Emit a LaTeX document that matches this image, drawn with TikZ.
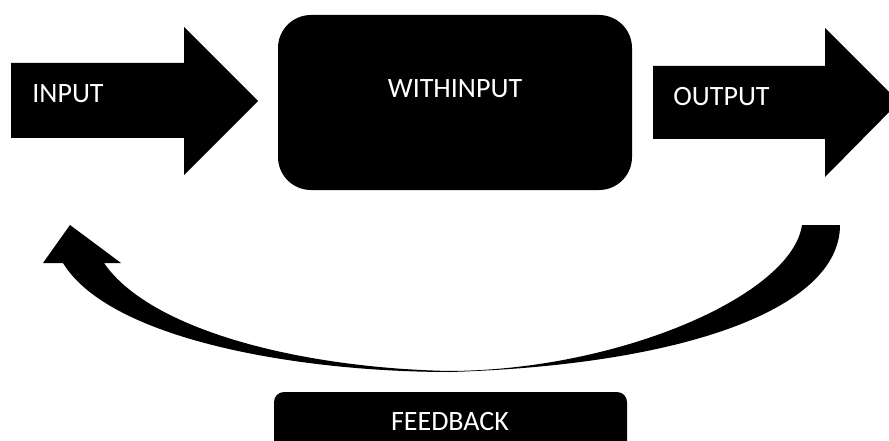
\documentclass[tikz,border=0pt]{standalone}
\usepackage{fontspec}
\setmainfont{Carlito}
\begin{document}
\begin{tikzpicture}[x=1pt,y=-1pt,
  lbl/.style={text=white,font=\fontsize{28}{30}\selectfont,inner sep=0pt,anchor=base},
  blk/.style={fill=black,draw=none}]
\useasboundingbox (0,0) rectangle (889,441);
\clip (0,0) rectangle (889,441);
% input arrow
\fill[blk] (11,63) -- (184,63) -- (184,27) -- (258,101) -- (184,175) -- (184,138) -- (11,138) -- cycle;
\node[lbl] (input) at (68,103) {INPUT};
% process box
\node[blk,rectangle,rounded corners=33pt,minimum width=354pt,minimum height=175pt,inner sep=0pt] (box) at (455,102.5) {};
\node[lbl] (within) at (455,98) {WITHINPUT};
% output arrow
\fill[blk] (653,66) -- (825,66) -- (825,28) -- (899,102) -- (825,177) -- (825,139) -- (653,139) -- cycle;
\node[lbl] (output) at (721.5,106) {OUTPUT};
% feedback curved arrow
\fill[blk] (70,225) -- (121,263) -- (104,263)
  .. controls (150,330) and (300,368) .. (450,371)
  .. controls (620,370) and (792,295) .. (802,225)
  -- (840,225)
  .. controls (840,310) and (680,365) .. (450,372)
  .. controls (300,372) and (110,340) .. (63,263)
  -- (43,263) -- cycle;
% feedback box
\fill[blk,rounded corners=10pt] (274,392) rectangle (627,470);
\node[lbl] (feedback) at (450,430) {FEEDBACK};
\end{tikzpicture}
\end{document}
